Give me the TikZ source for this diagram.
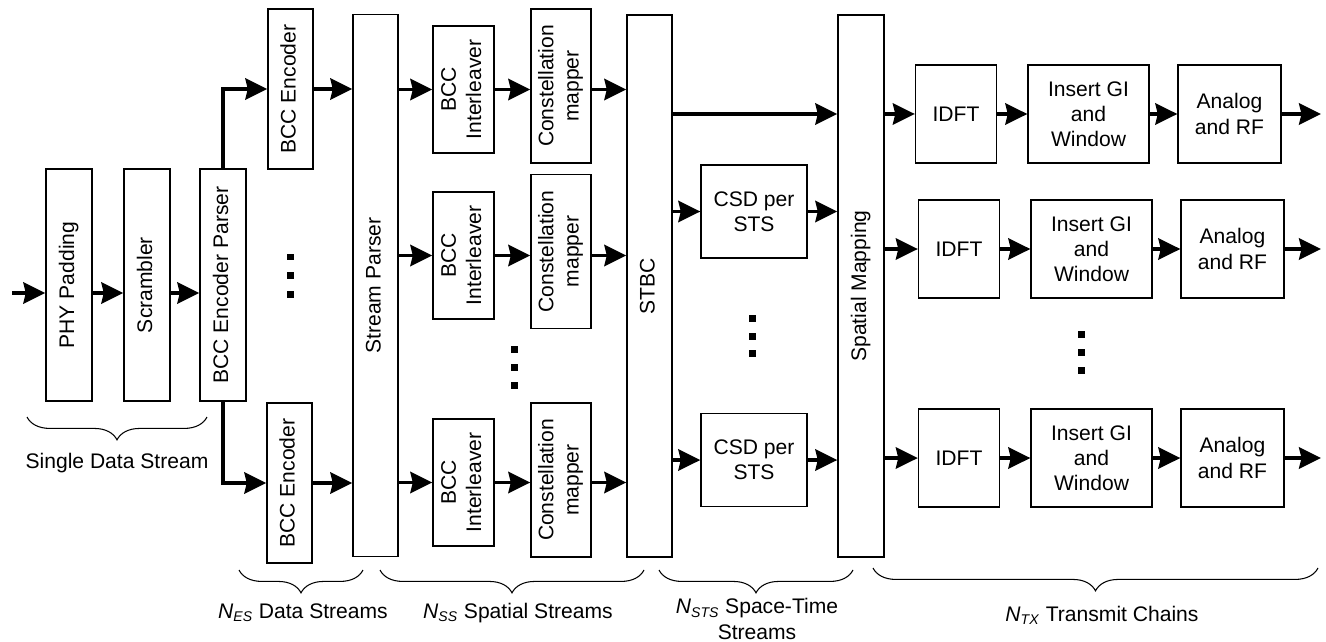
\documentclass[tikz,border=0pt]{standalone}
\usepackage{fontspec}
\setmainfont{Liberation Sans}
\usepackage{tikz}
\usetikzlibrary{arrows.meta,decorations.pathreplacing}

\newcommand{\vlabel}[1]{\rotatebox{90}{\begin{tabular}{@{}c@{}}#1\end{tabular}}}
\newcommand{\subN}[1]{\textit{N}\textsubscript{\textit{#1}}}

\begin{document}
\begin{tikzpicture}[
    x=0.02cm, y=-0.02cm,
    every node/.style={font=\fontsize{12}{14.3}\selectfont},
    blockbox/.style={draw=black, line width=0.8pt, inner sep=0pt, align=center},
    tallbox/.style={blockbox, minimum width=0.92cm, minimum height=4.64cm},
    encbox/.style={blockbox, minimum width=0.9cm, minimum height=3.2cm},
    fullbox/.style={blockbox, minimum width=0.9cm, minimum height=10.84cm},
    ilbox/.style={blockbox, minimum width=1.22cm, minimum height=2.54cm},
    mapbox/.style={blockbox, minimum width=1.2cm, minimum height=3.08cm},
    csdbox/.style={blockbox, minimum width=2.12cm, minimum height=1.86cm},
    idftbox/.style={blockbox, minimum width=1.62cm, minimum height=1.96cm},
    gibox/.style={blockbox, minimum width=2.42cm, minimum height=1.96cm},
    rfbox/.style={blockbox, minimum width=2.06cm, minimum height=1.96cm},
    flow/.style={line width=1.8pt, -{Stealth[length=4.4mm, width=4.3mm, inset=0.5mm]}},
    dotsq/.style={fill=black, inner sep=0pt, minimum size=0.14cm},
    brace/.style={decorate, decoration={brace, amplitude=13pt, mirror}, line width=0.6pt},
    bracelabel/.style={align=center},
  ]
    \useasboundingbox (0,0) rectangle (1326,642);

    % single data stream
    \coordinate (in) at (12,293);
    \node[tallbox] (pad) at (69,285) {\vlabel{PHY Padding}};
    \node[tallbox] (scr) at (147,285) {\vlabel{Scrambler}};
    \node[tallbox] (bccp) at (223,285) {\vlabel{BCC Encoder Parser}};
    \draw[flow] (in) -- (in -| pad.west);
    \draw[flow] (in -| pad.east) -- (in -| scr.west);
    \draw[flow] (in -| scr.east) -- (in -| bccp.west);

    % encoders
    \node[encbox] (enc1) at (290.5,89) {\vlabel{BCC Encoder}};
    \node[encbox] (enc2) at (289.5,483) {\vlabel{BCC Encoder}};
    \node[fullbox] (sp) at (375.5,285.5) {\vlabel{Stream Parser}};
    \draw[flow] (bccp.north) |- (enc1.west);
    \draw[flow] (bccp.south) |- (enc2.west);
    \draw[flow] (enc1.east) -- (enc1 -| sp.west);
    \draw[flow] (enc2.east) -- (enc2 -| sp.west);
    \foreach \y [count=\i] in {257,275,294} { \node[dotsq] (dA\i) at (290,\y) {}; }

    % spatial streams
    \node[fullbox] (stbc) at (649.5,286) {\vlabel{STBC}};
    \foreach \r/\yi/\ym in {1/89.5/86, 2/255.5/251.5, 3/482.5/480} {
      \node[ilbox] (il\r) at (463.5,\yi) {\vlabel{BCC\\Interleaver}};
      \node[mapbox] (map\r) at (561,\ym) {\vlabel{Constellation\\mapper}};
      \draw[flow] (il\r -| sp.east) -- (il\r.west);
      \draw[flow] (il\r.east) -- (il\r -| map\r.west);
      \draw[flow] (il\r -| map\r.east) -- (il\r -| stbc.west);
    }
    \foreach \y [count=\i] in {349,367,385} { \node[dotsq] (dB\i) at (514,\y) {}; }

    % space-time streams
    \node[fullbox, minimum width=0.92cm] (smap) at (861,286) {\vlabel{Spatial Mapping}};
    \node[csdbox] (csd1) at (754,211.5) {CSD per\\STS};
    \node[csdbox] (csd2) at (754,460) {CSD per\\STS};
    \foreach \y [count=\i] in {318,336,353} { \node[dotsq] (dC\i) at (752,\y) {}; }

    % transmit chains
    \foreach \r/\y/\dx in {1/114/-3, 2/249/0, 3/458/0} {
      \node[idftbox] (idft\r) at (959+\dx,\y) {IDFT};
      \node[gibox] (gi\r) at (1091.5+\dx,\y) {Insert GI\\and\\Window};
      \node[rfbox] (rf\r) at (1232.5+\dx,\y) {Analog\\and RF};
      \coordinate (out\r) at (1321,\y);
      \draw[flow] (idft\r -| smap.east) -- (idft\r.west);
      \draw[flow] (idft\r.east) -- (gi\r.west);
      \draw[flow] (gi\r.east) -- (rf\r.west);
      \draw[flow] (rf\r.east) -- (out\r);
    }
    \foreach \y [count=\i] in {334,352,370} { \node[dotsq] (dD\i) at (1081,\y) {}; }

    \draw[flow] (idft1 -| stbc.east) -- (idft1 -| smap.west);
    \draw[flow] (csd1 -| stbc.east) -- (csd1.west);
    \draw[flow] (csd1.east) -- (csd1 -| smap.west);
    \draw[flow] (csd2 -| stbc.east) -- (csd2.west);
    \draw[flow] (csd2.east) -- (csd2 -| smap.west);

    % braces
    \draw[brace] (27,417) -- (207,417);
    \node[bracelabel] (lsingle) at (117,463) {Single Data Stream};
    \draw[brace] (239,570) -- (363,570);
    \node[bracelabel] (lnes) at (303,613) {\subN{ES} Data Streams};
    \draw[brace] (380,570) -- (644,570);
    \node[bracelabel] (lnss) at (518,613) {\subN{SS} Spatial Streams};
    \draw[brace] (659,570) -- (853,570);
    \node[bracelabel] (lnsts) at (757,619) {\subN{STS} Space-Time\\Streams};
    \draw[brace] (873,568) -- (1318,568);
    \node[bracelabel] (lntx) at (1102,615) {\subN{TX} Transmit Chains};
\end{tikzpicture}
\end{document}
